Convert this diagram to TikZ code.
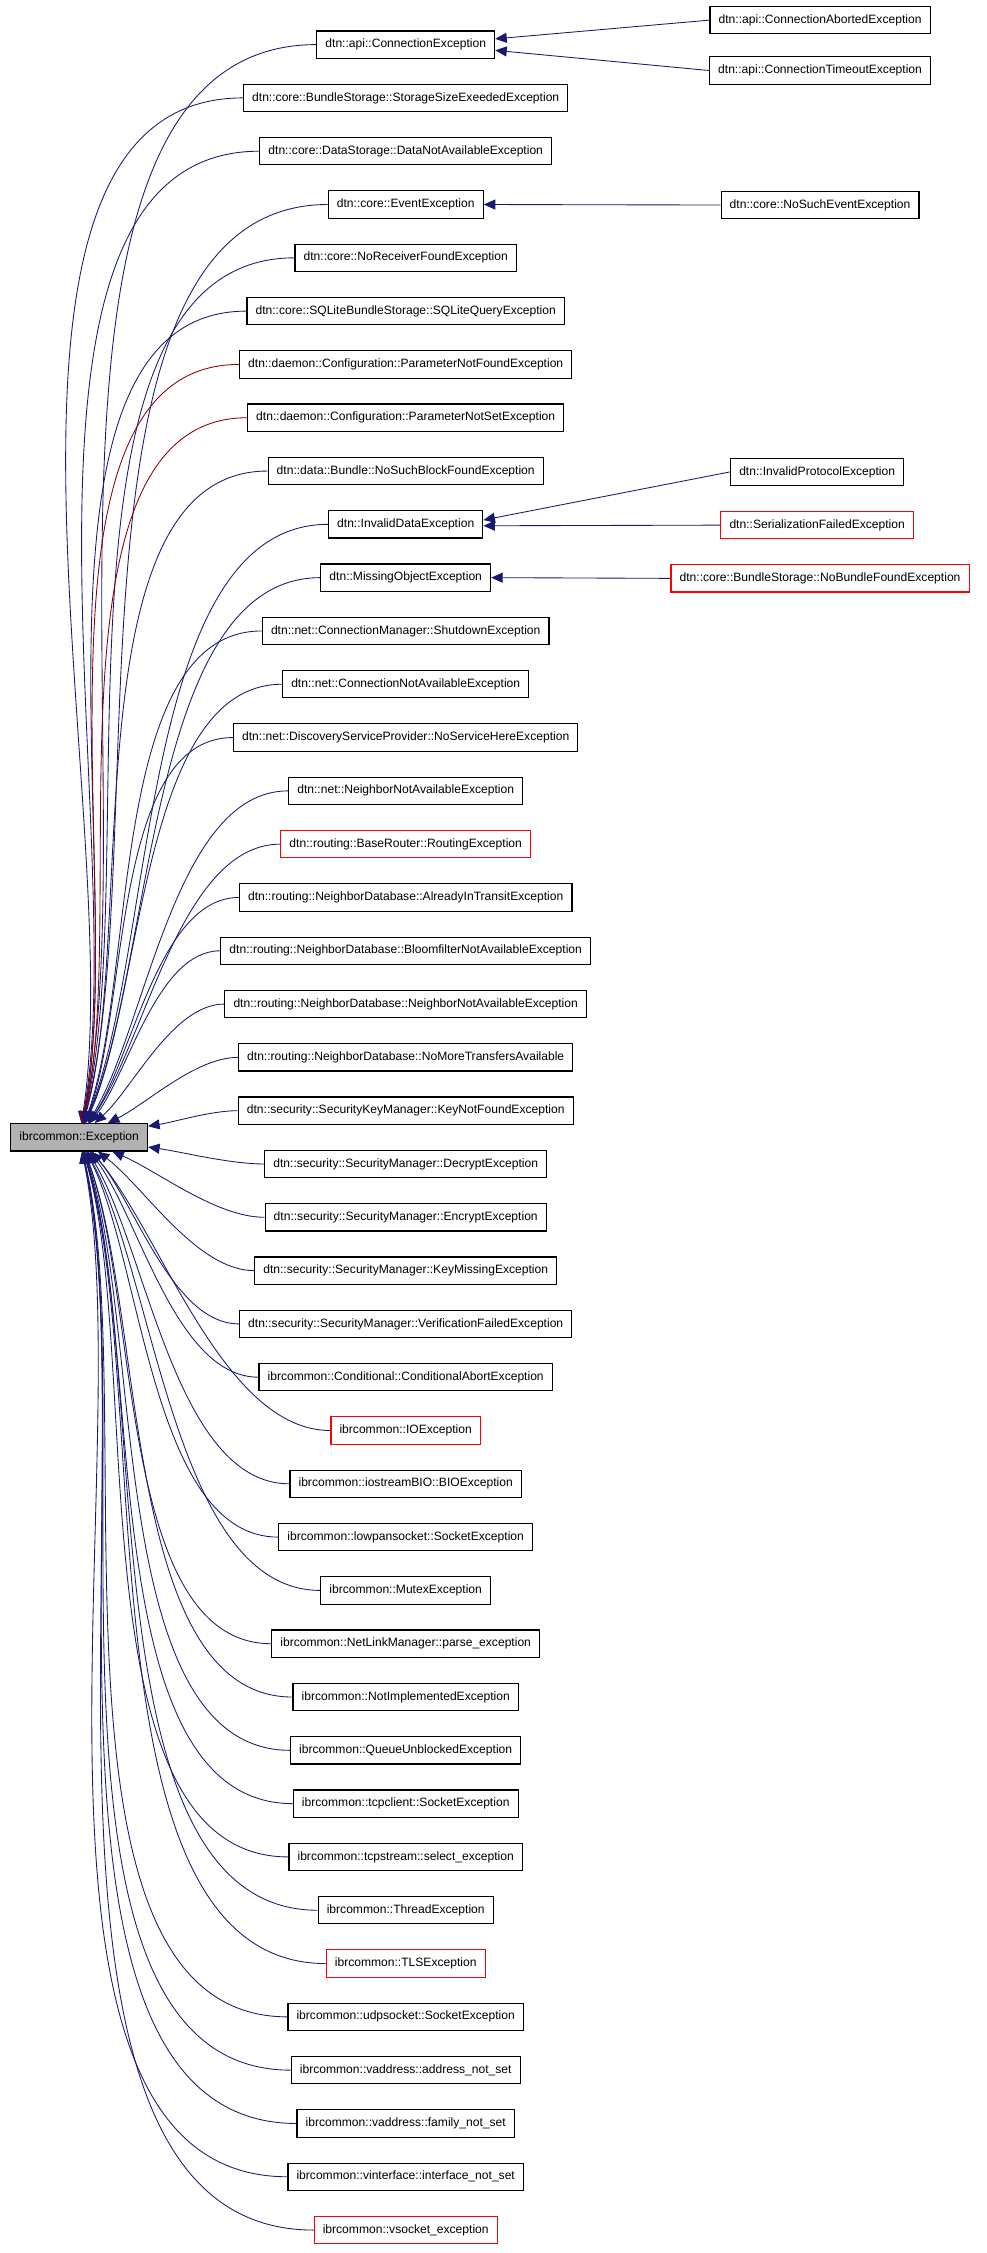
\documentclass[tikz,border=0pt]{standalone}
\usepackage{fontspec}
\setmainfont{Liberation Sans}
\usetikzlibrary{arrows.meta,calc}
\begin{document}
\begin{tikzpicture}[x=1pt,y=-1pt,
  box/.style={draw,thick,fill=white,minimum height=19pt,inner xsep=6pt,font=\fontsize{8.4}{10}\selectfont},
  redbox/.style={box,draw=red},
  edge/.style={draw=midnightblue,line width=0.6pt,-{Triangle[length=8pt,width=7pt,fill=midnightblue]}},
  redge/.style={edge,draw=darkred}]
\definecolor{midnightblue}{HTML}{191970}
\definecolor{darkred}{HTML}{8B0000}
\useasboundingbox (0,0) rectangle (686,1566);
\node[box,fill=black!30] (root) at (55,790.5) {ibrcommon::Exception};
\foreach \i/\t/\s/\e in {
1/dtn::api::ConnectionException/box/edge,
2/dtn::core::BundleStorage::StorageSizeExeededException/box/edge,
3/dtn::core::DataStorage::DataNotAvailableException/box/edge,
4/dtn::core::EventException/box/edge,
5/dtn::core::NoReceiverFoundException/box/edge,
6/dtn::core::SQLiteBundleStorage::SQLiteQueryException/box/edge,
7/dtn::daemon::Configuration::ParameterNotFoundException/box/redge,
8/dtn::daemon::Configuration::ParameterNotSetException/box/redge,
9/dtn::data::Bundle::NoSuchBlockFoundException/box/edge,
10/dtn::InvalidDataException/box/edge,
11/dtn::MissingObjectException/box/edge,
12/dtn::net::ConnectionManager::ShutdownException/box/edge,
13/dtn::net::ConnectionNotAvailableException/box/edge,
14/dtn::net::DiscoveryServiceProvider::NoServiceHereException/box/edge,
15/dtn::net::NeighborNotAvailableException/box/edge,
16/dtn::routing::BaseRouter::RoutingException/redbox/edge,
17/dtn::routing::NeighborDatabase::AlreadyInTransitException/box/edge,
18/dtn::routing::NeighborDatabase::BloomfilterNotAvailableException/box/edge,
19/dtn::routing::NeighborDatabase::NeighborNotAvailableException/box/edge,
20/dtn::routing::NeighborDatabase::NoMoreTransfersAvailable/box/edge,
21/dtn::security::SecurityKeyManager::KeyNotFoundException/box/edge,
22/dtn::security::SecurityManager::DecryptException/box/edge,
23/dtn::security::SecurityManager::EncryptException/box/edge,
24/dtn::security::SecurityManager::KeyMissingException/box/edge,
25/dtn::security::SecurityManager::VerificationFailedException/box/edge,
26/ibrcommon::Conditional::ConditionalAbortException/box/edge,
27/ibrcommon::IOException/redbox/edge,
28/ibrcommon::iostreamBIO::BIOException/box/edge,
29/ibrcommon::lowpansocket::SocketException/box/edge,
30/ibrcommon::MutexException/box/edge,
31/ibrcommon::NetLinkManager::parse\_exception/box/edge,
32/ibrcommon::NotImplementedException/box/edge,
33/ibrcommon::QueueUnblockedException/box/edge,
34/ibrcommon::tcpclient::SocketException/box/edge,
35/ibrcommon::tcpstream::select\_exception/box/edge,
36/ibrcommon::ThreadException/box/edge,
37/ibrcommon::TLSException/redbox/edge,
38/ibrcommon::udpsocket::SocketException/box/edge,
39/ibrcommon::vaddress::address\_not\_set/box/edge,
40/ibrcommon::vaddress::family\_not\_set/box/edge,
41/ibrcommon::vinterface::interface\_not\_set/box/edge,
42/ibrcommon::vsocket\_exception/redbox/edge}{
  \pgfmathsetmacro{\yy}{31+(\i-1)*37.05}
  \node[\s] (n\i) at (282,\yy) {\t};
  \path let \p1=(n\i.west) in \pgfextra{\pgfmathsetmacro{\ang}{atan2(790.5-\yy,\x1-55)}\xdef\angg{\ang}};
  \draw[\e] (n\i.west) to[out=180,in=\angg,looseness=0.75] (root);
}
\node[box] (a1) at (570,14) {dtn::api::ConnectionAbortedException};
\node[box] (a2) at (570,49) {dtn::api::ConnectionTimeoutException};
\node[box] (b1) at (570,142.5) {dtn::core::NoSuchEventException};
\node[box] (c1) at (568,328) {dtn::InvalidProtocolException};
\node[redbox] (c2) at (568,365) {dtn::SerializationFailedException};
\node[redbox] (d1) at (570,402) {dtn::core::BundleStorage::NoBundleFoundException};
\draw[edge] (a1.west) -- ([yshift=4pt]n1.east);
\draw[edge] (a2.west) -- ([yshift=-4pt]n1.east);
\draw[edge] (b1.west) -- (n4.east);
\draw[edge] (c1.west) -- ([yshift=3pt]n10.east);
\draw[edge] (c2.west) -- ([yshift=-1pt]n10.east);
\draw[edge] (d1.west) -- (n11.east);
\end{tikzpicture}
\end{document}
